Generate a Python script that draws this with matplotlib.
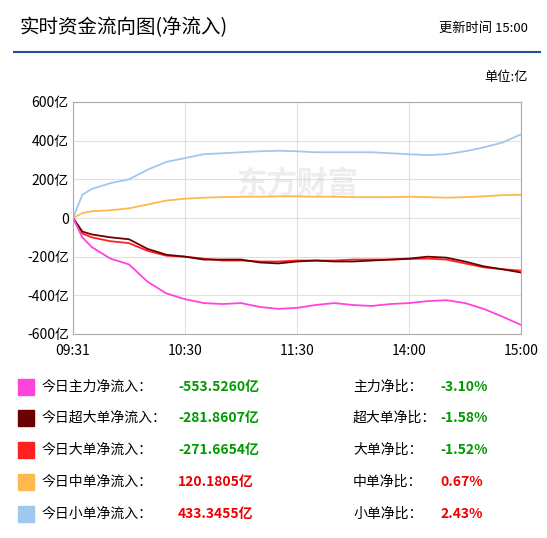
import numpy as np
import matplotlib
matplotlib.use("Agg")
import matplotlib.pyplot as plt

plt.rcParams['font.family'] = ['Noto Sans CJK SC', 'DejaVu Sans']

# minutes since 09:31 (240 trading minutes)
minutes = [0, 5, 10, 20, 30, 40, 50, 60, 70, 80, 90, 100, 110, 120,
           130, 140, 150, 160, 170, 180, 190, 200, 210, 220, 230, 240]
main_flow = [0, -100, -150, -210, -240, -330, -390, -420, -440, -445, -440, -460, -470, -465,
             -450, -440, -450, -455, -445, -440, -430, -425, -440, -470, -510, -553]
super_flow = [0, -70, -85, -100, -110, -160, -190, -200, -215, -215, -215, -230, -235, -225,
              -220, -225, -225, -220, -215, -210, -200, -205, -225, -250, -265, -282]
big_flow = [0, -80, -100, -120, -130, -170, -195, -200, -210, -220, -220, -225, -225, -220,
            -220, -220, -215, -215, -215, -212, -210, -215, -235, -255, -265, -272]
mid_flow = [0, 25, 35, 40, 50, 70, 90, 100, 105, 108, 110, 110, 112, 112,
            110, 110, 108, 108, 108, 110, 108, 105, 108, 112, 118, 120]
small_flow = [0, 120, 150, 180, 200, 250, 290, 310, 330, 335, 340, 345, 348, 345,
              340, 340, 340, 340, 335, 330, 325, 330, 345, 365, 390, 433]

xtick_pos = [0, 60, 120, 180, 240]
xtick_lbl = ["09:31", "10:30", "11:30", "14:00", "15:00"]
ytick_pos = [600, 400, 200, 0, -200, -400, -600]
ytick_lbl = ["600亿", "400亿", "200亿", "0", "-200亿", "-400亿", "-600亿"]

names = ["今日主力净流入：", "今日超大单净流入：", "今日大单净流入：", "今日中单净流入：", "今日小单净流入："]
values = ["-553.5260亿", "-281.8607亿", "-271.6654亿", "120.1805亿", "433.3455亿"]
ratio_names = ["主力净比：", "超大单净比：", "大单净比：", "中单净比：", "小单净比："]
ratios = ["-3.10%", "-1.58%", "-1.52%", "0.67%", "2.43%"]
colors = ["#ff44dd", "#6b0000", "#ff2020", "#ffb84d", "#a0c8ee"]
series = [main_flow, super_flow, big_flow, mid_flow, small_flow]

W, H = 547, 538
fig = plt.figure(figsize=(W / 100, H / 100), dpi=100)

fig.text(20 / W, 1 - 28 / H, "实时资金流向图(净流入)", fontsize=14, va="center", ha="left")
fig.text(528 / W, 1 - 28 / H, "更新时间 15:00", fontsize=9.5, va="center", ha="right")
fig.add_artist(plt.Line2D([14 / W, 540 / W], [1 - 52 / H, 1 - 52 / H], color="#1f4e9a", lw=1.5))
fig.text(528 / W, 1 - 78 / H, "单位:亿", fontsize=9.5, va="center", ha="right")

ax = fig.add_axes([73 / W, 1 - 334 / H, 448 / W, 232 / H])
for s, c in zip(series[::-1], colors[::-1]):
    ax.plot(minutes, s, color=c, lw=1.3)
ax.set_xlim(0, 240)
ax.set_ylim(-600, 600)
ax.set_xticks(xtick_pos)
ax.set_xticklabels(xtick_lbl, fontsize=10)
ax.set_yticks(ytick_pos)
ax.set_yticklabels(ytick_lbl, fontsize=10)
ax.tick_params(axis="y", length=0, pad=3)
ax.tick_params(axis="x", length=0, pad=7)
ax.grid(True, color="#e0e0e0", lw=0.8)
ax.set_axisbelow(True)
for sp in ax.spines.values():
    sp.set_color("#aaaaaa")
ax.text(120, 180, "东方财富", fontsize=22, color="#cccccc", alpha=0.35,
        ha="center", va="center", fontweight="bold")

row_y = [387, 418, 450, 482, 514]
for i, y in enumerate(row_y):
    fy = 1 - y / H
    fig.add_artist(plt.Rectangle((18 / W, fy - 8 / H), 16 / W, 16 / H, color=colors[i]))
    fig.text(42 / W, fy, names[i], fontsize=10, va="center")
    vc = "#009900" if values[i].startswith("-") else "#ee0000"
    fig.text(178 / W, fy, values[i], fontsize=10, va="center", color=vc, fontweight="bold")
    fig.text(353 / W, fy, ratio_names[i], fontsize=10, va="center")
    rc = "#009900" if ratios[i].startswith("-") else "#ee0000"
    fig.text(440 / W, fy, ratios[i], fontsize=10, va="center", color=rc, fontweight="bold")

fig.savefig("out.png", dpi=100)
